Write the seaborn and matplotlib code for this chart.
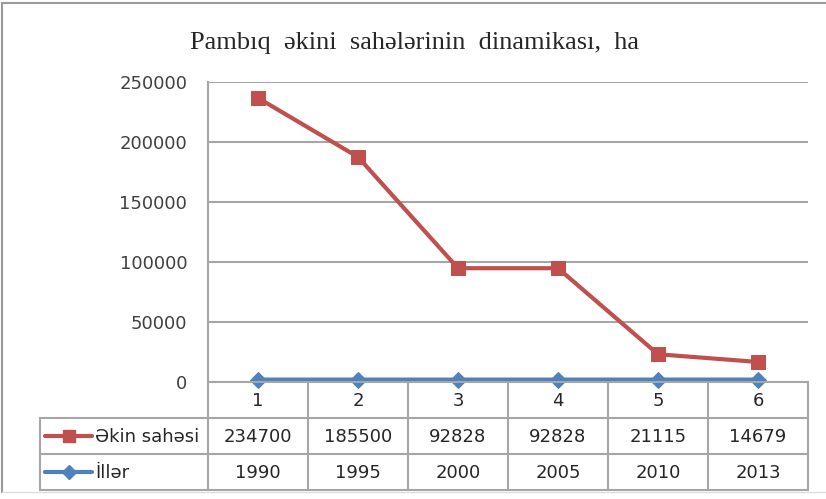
import seaborn as sns
import matplotlib.pyplot as plt
import numpy as np
from matplotlib.lines import Line2D

# Verilənlər
kateqoriya = ['1', '2', '3', '4', '5', '6']
ekin_sahesi = [234700, 185500, 92828, 92828, 21115, 14679]
iller = [1990, 1995, 2000, 2005, 2010, 2013]
seriya_adlari = ['Əkin sahəsi', 'İllər']
y_ticks = [0, 50000, 100000, 150000, 200000, 250000]

qirmizi = '#C0504D'
goy = '#4F81BD'
boz = '#A6A6A6'

sns.set_style('white')
plt.rcParams['font.family'] = ['DejaVu Sans']

W, H = 826, 499
fig = plt.figure(figsize=(W / 100, H / 100), dpi=100)

# ana qrafik
ax = fig.add_axes([208 / W, (H - 382) / H, 600 / W, 300 / H])
x = np.arange(len(kateqoriya))
# yığılmış xətt: Excel kimi, əkin sahəsi illərin üstünə yığılır
yigilmis = np.array(ekin_sahesi) + np.array(iller)

ax.set_ylim(0, 250000)
ax.set_xlim(-0.5, len(kateqoriya) - 0.5)
ax.set_yticks(y_ticks)
ax.yaxis.grid(True, color=boz, linewidth=1.5)
ax.set_axisbelow(True)
for s in ['top', 'right', 'bottom']:
    ax.spines[s].set_visible(False)
ax.spines['left'].set_color(boz)
ax.spines['left'].set_linewidth(1.5)
ax.tick_params(axis='y', length=0, pad=15, labelsize=13, labelcolor='#404040')
ax.tick_params(axis='x', length=0, labelbottom=False)

sns.lineplot(x=x, y=np.array(iller), ax=ax, color=goy, linewidth=3,
             marker='D', markersize=8, markeredgecolor=goy, clip_on=False)
sns.lineplot(x=x, y=yigilmis, ax=ax, color=qirmizi, linewidth=3,
             marker='s', markersize=10, markeredgecolor=qirmizi, clip_on=False)
ax.set_xlabel('')
ax.set_ylabel('')

# cədvəl
tab = fig.add_axes([208 / W, (H - 490) / H, 600 / W, 108 / H], sharex=ax)
tab.set_ylim(3, 0)
tab.axis('off')
sol = -2.18
xet = dict(color=boz, linewidth=1.5, clip_on=False)
tab.plot([-0.5, 5.5], [0, 0], **xet)
for yy in [1, 2, 3]:
    tab.plot([sol, 5.5], [yy, yy], **xet)
tab.plot([sol, sol], [1, 3], **xet)
for xx in np.arange(len(kateqoriya) + 1) - 0.5:
    tab.plot([xx, xx], [0, 3], **xet)

mtn = dict(ha='center', va='center', fontsize=13, color='#262626')
for i, k in enumerate(kateqoriya):
    tab.text(i, 0.52, k, **mtn)
    tab.text(i, 1.52, str(ekin_sahesi[i]), **mtn)
    tab.text(i, 2.52, str(iller[i]), **mtn)

# əfsanə açarları
for r, (ad, reng, mk, ms) in enumerate([(seriya_adlari[0], qirmizi, 's', 9),
                                         (seriya_adlari[1], goy, 'D', 7)]):
    yy = r + 1.5
    tab.add_line(Line2D([-2.13, -1.66], [yy, yy], color=reng, linewidth=3,
                        clip_on=False))
    tab.add_line(Line2D([-1.895], [yy], color=reng, marker=mk, markersize=ms,
                        clip_on=False))
    tab.text(-1.63, yy + 0.02, ad, ha='left', va='center', fontsize=13,
             color='#262626')

# başlıq
fig.text(415 / W, 1 - 43 / H, 'Pambıq  əkini  sahələrinin  dinamikası,  ha',
         ha='center', va='center', fontsize=19,
         family=['Liberation Serif', 'DejaVu Serif'])

# çərçivə
fig.add_artist(Line2D([2 / W, 2 / W], [1 - 3 / H, 1 - 492 / H],
                      transform=fig.transFigure, color='#999999', linewidth=1.5))
fig.add_artist(Line2D([2 / W, 1], [1 - 3 / H, 1 - 3 / H],
                      transform=fig.transFigure, color='#999999', linewidth=1.5))
fig.add_artist(Line2D([2 / W, 1], [1 - 492 / H, 1 - 492 / H],
                      transform=fig.transFigure, color='#DDDDDD', linewidth=1))

fig.savefig('out.png', dpi=100)
